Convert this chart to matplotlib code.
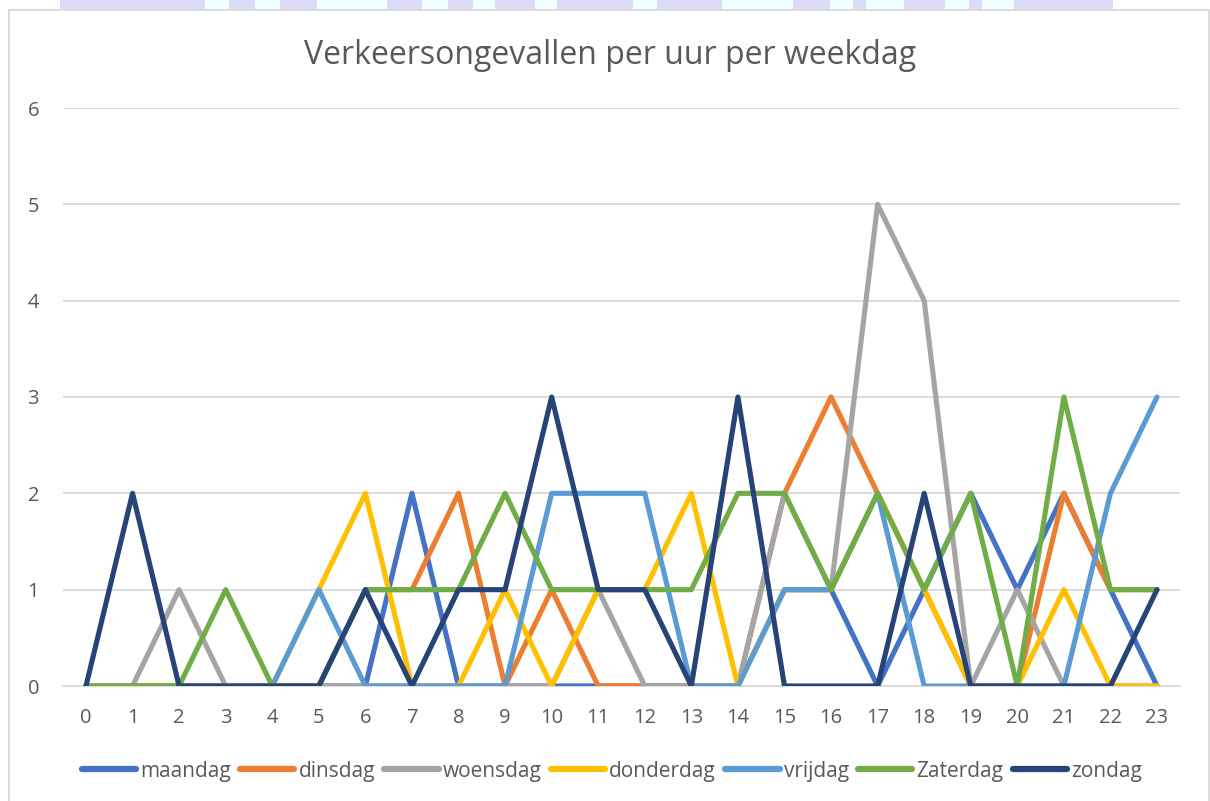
import matplotlib
matplotlib.use("Agg")
import matplotlib.pyplot as plt
from matplotlib.patches import Rectangle

plt.rcParams['font.family'] = ['Open Sans', 'DejaVu Sans']

hours = list(range(24))
series_names = ['maandag', 'dinsdag', 'woensdag', 'donderdag', 'vrijdag', 'Zaterdag', 'zondag']
maandag   = [0, 0, 0, 0, 0, 0, 0, 2, 0, 0, 0, 0, 0, 0, 0, 1, 1, 0, 1, 2, 1, 2, 1, 0]
dinsdag   = [0, 0, 0, 0, 0, 0, 1, 1, 2, 0, 1, 0, 0, 0, 0, 2, 3, 2, 1, 0, 0, 2, 1, 1]
woensdag  = [0, 0, 1, 0, 0, 0, 0, 0, 0, 0, 0, 1, 0, 0, 0, 2, 1, 5, 4, 0, 1, 0, 0, 0]
donderdag = [0, 0, 0, 0, 0, 1, 2, 0, 0, 1, 0, 1, 1, 2, 0, 1, 1, 2, 1, 0, 0, 1, 0, 0]
vrijdag   = [0, 0, 0, 0, 0, 1, 0, 0, 0, 0, 2, 2, 2, 0, 0, 1, 1, 2, 0, 0, 0, 0, 2, 3]
zaterdag  = [0, 0, 0, 1, 0, 0, 1, 1, 1, 2, 1, 1, 1, 1, 2, 2, 1, 2, 1, 2, 0, 3, 1, 1]
zondag    = [0, 2, 0, 0, 0, 0, 1, 0, 1, 1, 3, 1, 1, 0, 3, 0, 0, 0, 2, 0, 0, 0, 0, 1]
values = [maandag, dinsdag, woensdag, donderdag, vrijdag, zaterdag, zondag]
colors = ['#4472C4', '#ED7D31', '#A5A5A5', '#FFC000', '#5B9BD5', '#70AD47', '#264478']
title = 'Verkeersongevallen per uur per weekdag'

W, H = 1210, 801
fig = plt.figure(figsize=(W / 100, H / 100), dpi=100)
fig.patch.set_facecolor('white')

# decorative banner strip at the very top
banner = [(60, 205, '#DCDCF8'), (205, 229, '#F0FFFF'), (229, 255, '#DCDCF8'), (255, 280, '#F0FFFF'),
          (280, 317, '#DCDCF8'), (317, 387, '#F0FFFF'), (387, 422, '#DCDCF8'), (422, 448, '#F0FFFF'),
          (448, 473, '#DCDCF8'), (473, 495, '#F0FFFF'), (495, 535, '#DCDCF8'), (535, 557, '#F0FFFF'),
          (557, 633, '#DCDCF8'), (633, 657, '#F0FFFF'), (657, 722, '#DCDCF8'), (722, 793, '#F0FFFF'),
          (793, 830, '#DCDCF8'), (830, 853, '#F0FFFF'), (853, 866, '#DCDCF8'), (866, 904, '#F0FFFF'),
          (904, 945, '#DCDCF8'), (945, 969, '#F0FFFF'), (969, 982, '#DCDCF8'), (982, 1014, '#F0FFFF'),
          (1014, 1113, '#DCDCF8')]
for x0, x1, c in banner:
    fig.patches.append(Rectangle((x0 / W, 1 - 9 / H), (x1 - x0) / W, 9 / H,
                                 transform=fig.transFigure, facecolor=c, edgecolor='none', zorder=0))
# chart border
fig.patches.append(Rectangle((9 / W, -0.01), 1200 / W, 1.01 - 10 / H, transform=fig.transFigure,
                             facecolor='none', edgecolor='#D9D9D9', linewidth=1.3, zorder=1))

ax = fig.add_axes([62.7 / W, 115 / H, (1180.3 - 62.7) / W, 578 / H])
for name, vals, col in zip(series_names, values, colors):
    ax.plot(hours, vals, color=col, linewidth=3.7, label=name,
            solid_joinstyle='round', solid_capstyle='round', zorder=3)

ax.set_xlim(-0.5, 23.5)
ax.set_ylim(0, 6)
ax.set_xticks(hours)
ax.set_yticks(range(7))
ax.grid(axis='y', color='#D9D9D9', linewidth=1.3)
ax.set_axisbelow(True)
for s in ['top', 'right', 'left']:
    ax.spines[s].set_visible(False)
ax.spines['bottom'].set_color('#D9D9D9')
ax.spines['bottom'].set_linewidth(1.3)
ax.spines['bottom'].set_zorder(2)
ax.tick_params(axis='both', length=0, labelcolor='#595959', labelsize=14.5)
ax.tick_params(axis='x', pad=16)
ax.tick_params(axis='y', pad=17)

fig.text(610 / W, 1 - 56 / H, title, ha='center', va='center', fontsize=23,
         color='#595959', fontweight='normal')

leg = fig.legend(loc='center', bbox_to_anchor=(612 / W, 1 - 771 / H), ncol=7, frameon=False,
                 fontsize=15, handlelength=2.6, handletextpad=0.2, columnspacing=0.45,
                 labelcolor='#595959')
for h in leg.legend_handles:
    h.set_linewidth(4.5)
    h.set_solid_capstyle('round')

fig.savefig('out.png', dpi=100)
